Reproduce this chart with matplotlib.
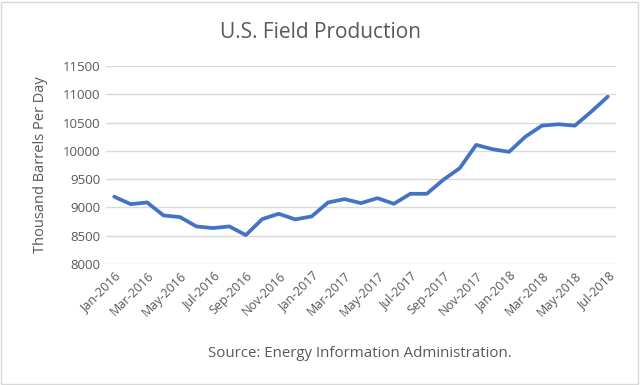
import matplotlib
matplotlib.use("Agg")
import matplotlib.pyplot as plt
from matplotlib.patches import Rectangle

months = ["Jan-2016", "Feb-2016", "Mar-2016", "Apr-2016", "May-2016", "Jun-2016",
          "Jul-2016", "Aug-2016", "Sep-2016", "Oct-2016", "Nov-2016", "Dec-2016",
          "Jan-2017", "Feb-2017", "Mar-2017", "Apr-2017", "May-2017", "Jun-2017",
          "Jul-2017", "Aug-2017", "Sep-2017", "Oct-2017", "Nov-2017", "Dec-2017",
          "Jan-2018", "Feb-2018", "Mar-2018", "Apr-2018", "May-2018", "Jun-2018",
          "Jul-2018"]
production = [9190, 9058, 9088, 8858, 8829, 8664, 8635, 8664, 8511, 8794, 8888, 8788,
              8841, 9088, 9147, 9076, 9164, 9064, 9241, 9241, 9488, 9693, 10105, 10029,
              9982, 10252, 10446, 10470, 10446, 10693, 10958]
yticks = [8000, 8500, 9000, 9500, 10000, 10500, 11000, 11500]

plt.rcParams['font.family'] = ['Open Sans', 'DejaVu Sans']
gray = '#595959'

fig = plt.figure(figsize=(6.4, 3.85), dpi=100)
ax = fig.add_axes([0.1656, 0.3143, 0.7969, 0.5143])

x = list(range(len(months)))
ax.plot(x, production, color='#4472C4', linewidth=2.7, solid_capstyle='round', solid_joinstyle='round', zorder=3)

ax.set_xlim(-0.5, len(months) - 0.5)
ax.set_ylim(8000, 11500)
ax.set_yticks(yticks)
ax.set_yticklabels([str(v) for v in yticks], color=gray, fontsize=9.5)
ax.set_xticks(x[::2])
ax.set_xticklabels(months[::2], rotation=45, ha='right', rotation_mode='anchor', color=gray, fontsize=9)
ax.tick_params(axis='both', length=0, pad=4)
ax.grid(axis='y', color='#D9D9D9', linewidth=1)
ax.set_axisbelow(True)
for s in ax.spines.values():
    s.set_visible(False)

ax.set_ylabel('Thousand Barrels Per Day', color=gray, fontsize=10.5, labelpad=11)
fig.text(0.5, 0.915, 'U.S. Field Production', ha='center', va='center', fontsize=15, color=gray)
fig.text(0.5625, 0.083, 'Source: Energy Information Administration.', ha='center', va='center', fontsize=10.8, color=gray)

fig.patches.append(Rectangle((0.002, 0.003), 0.995, 0.993, transform=fig.transFigure,
                             fill=False, edgecolor='#D9D9D9', linewidth=1))

fig.savefig('out.png', dpi=100)
